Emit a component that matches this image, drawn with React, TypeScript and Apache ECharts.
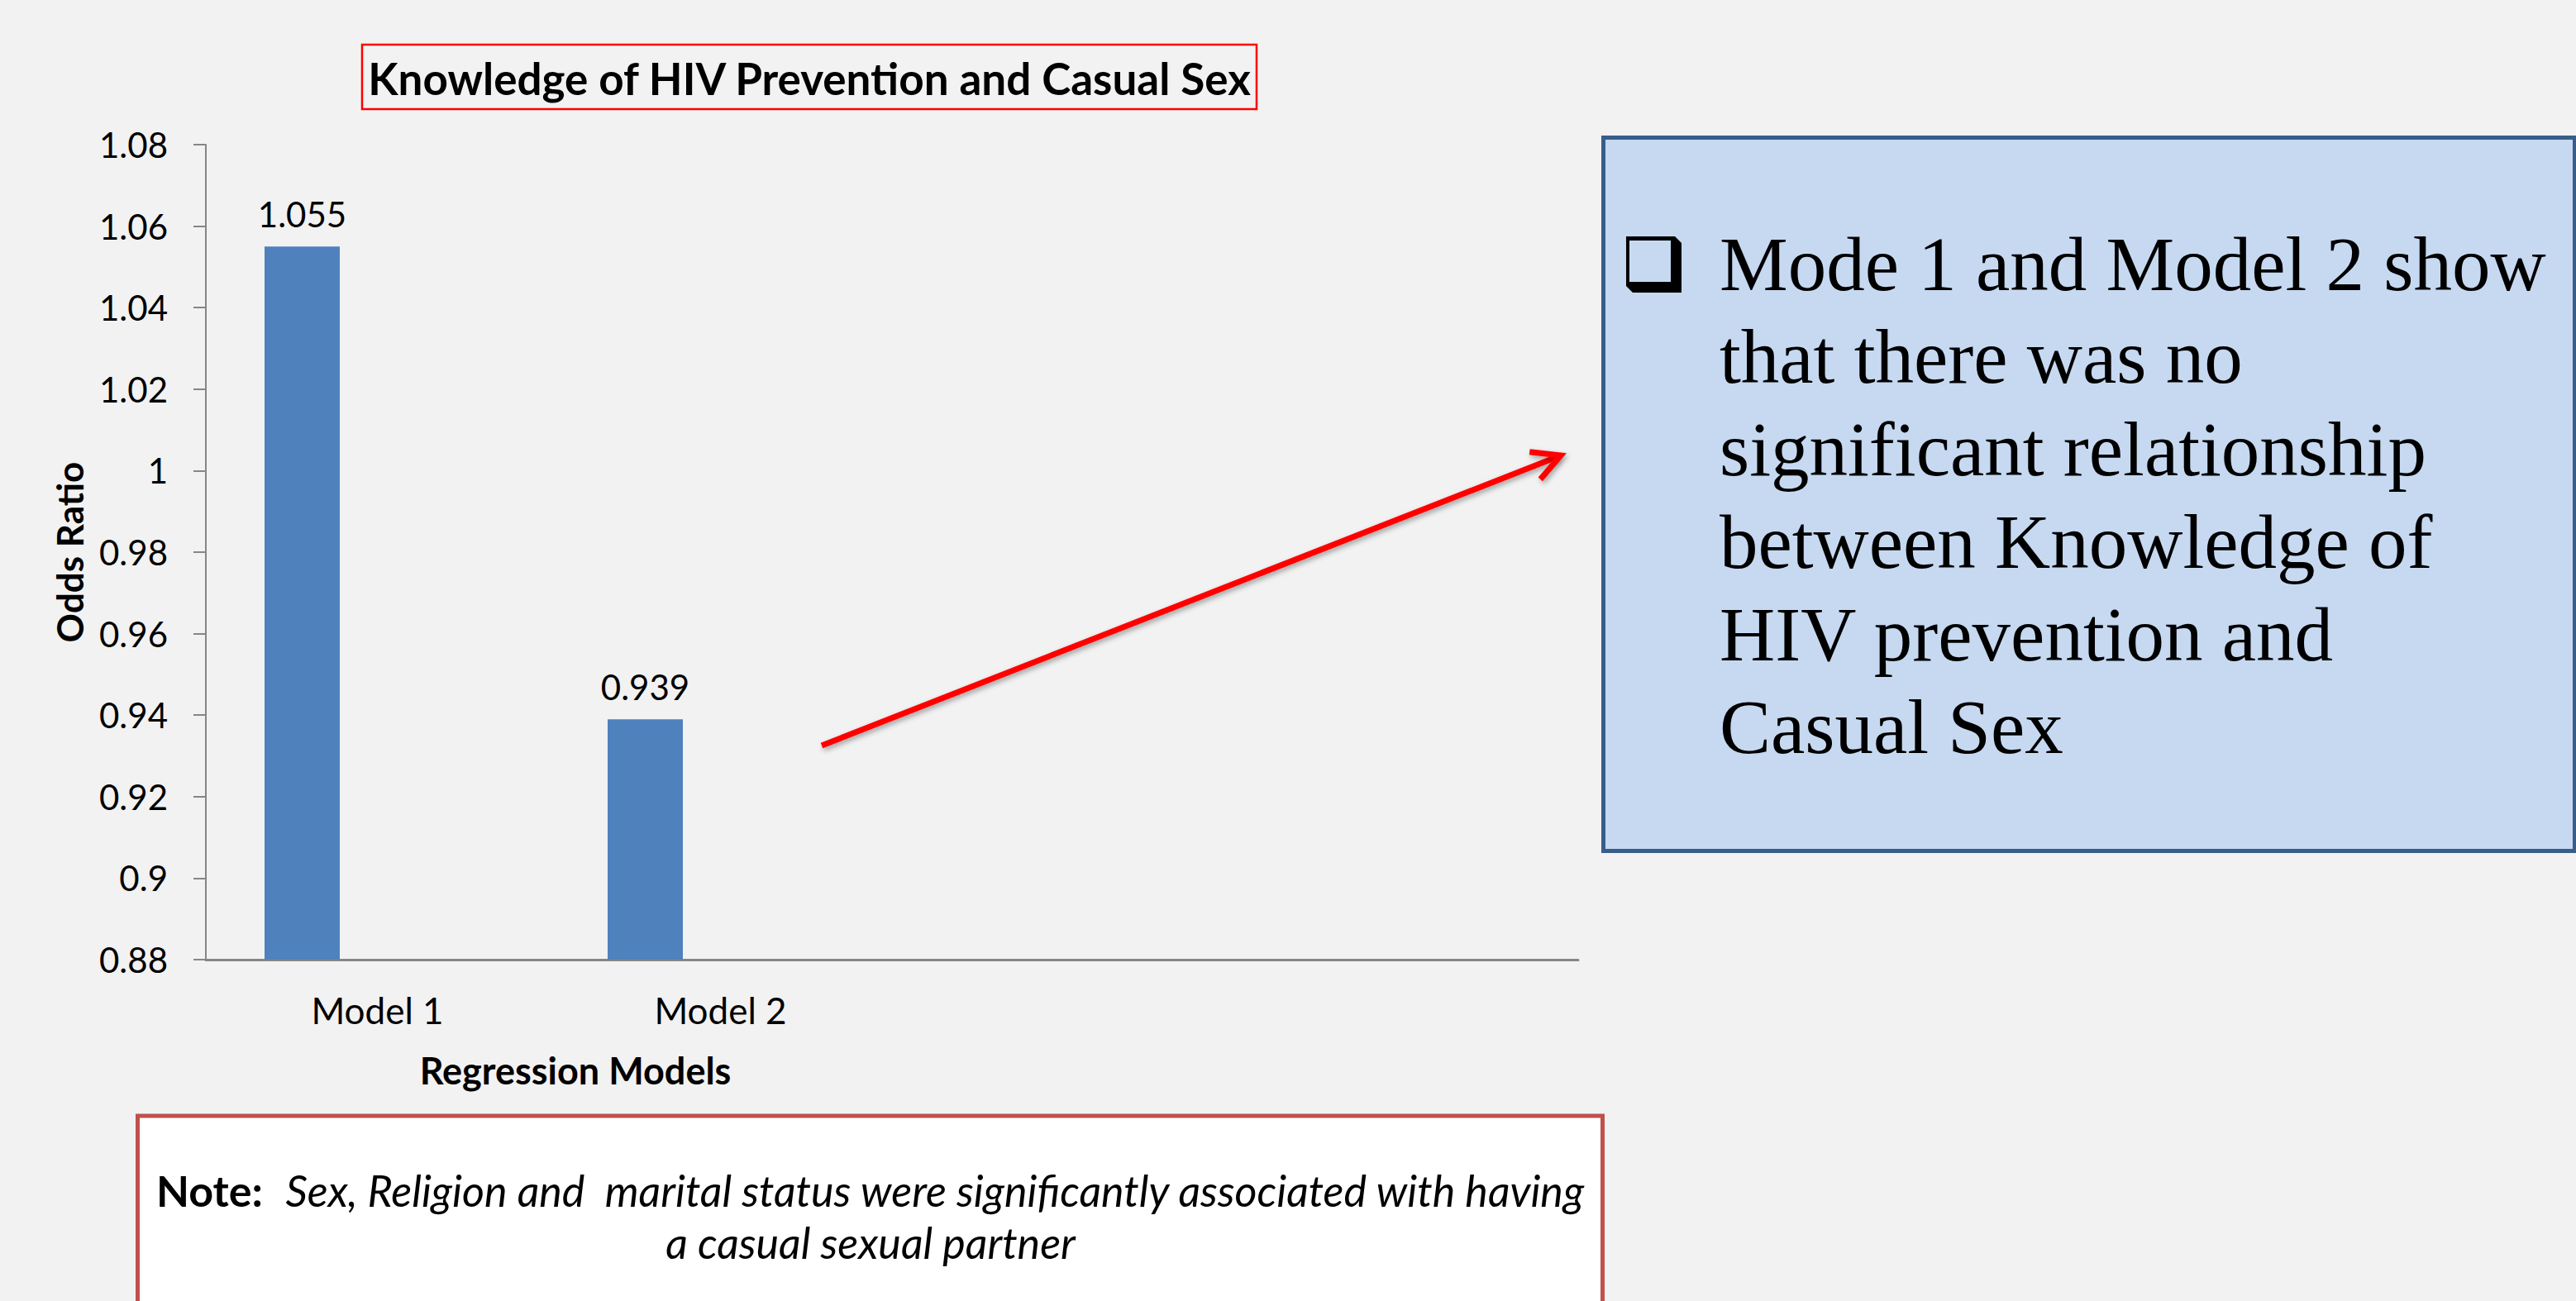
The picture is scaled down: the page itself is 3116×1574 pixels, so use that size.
import React, { useEffect, useRef } from "react";
import * as echarts from "echarts";

const categories = ["Model 1", "Model 2", "", ""];
const seriesNames = ["Series 1", "Series 2", "Series 3"];
const series1 = [1.055, 0.939, null, null];
const series2 = [null, null, null, null];
const series3 = [null, null, null, null];
const yTickLabels = ["0.88", "0.9", "0.92", "0.94", "0.96", "0.98", "1", "1.02", "1.04", "1.06", "1.08"];
const yMin = 0.88;
const yMax = 1.08;
const yStep = 0.02;

const chartTitle = "Knowledge of HIV Prevention and Casual Sex";
const yAxisTitle = "Odds Ratio";
const xAxisTitle = "Regression Models";
const boxLines = [
  "Mode 1 and Model 2 show",
  "that there was no",
  "significant relationship",
  "between Knowledge of",
  "HIV prevention and",
  "Casual Sex",
];
const noteBold = "Note:";
const noteLine1 = "Sex, Religion and  marital status were significantly associated with having";
const noteLine2 = "a casual sexual partner";

const W = 3116;
const H = 1574;
const SANS = "Lato, 'Open Sans', sans-serif";
const SERIF = "'Liberation Serif', 'DejaVu Serif', serif";

export default function App() {
  const ref = useRef<HTMLDivElement>(null);
  useEffect(() => {
    document.body.style.margin = "0";
    document.body.style.background = "#f2f2f2";
    const chart = echarts.init(ref.current!, null, { renderer: "svg" });

    const seriesData = [series1, series2, series3];
    const series = seriesData.map((d, i) => ({
      name: seriesNames[i],
      type: "bar",
      data: d,
      barWidth: 91,
      barGap: "0%",
      itemStyle: { color: "#4f81bd" },
      label: {
        show: i === 0,
        position: "top",
        distance: 18,
        fontSize: 42,
        fontFamily: SANS,
        color: "#000",
      },
    }));

    const graphic: any[] = [];
    // Title box
    graphic.push({
      type: "rect",
      shape: { x: 438, y: 54, width: 1082, height: 78 },
      style: { fill: "none", stroke: "#ff0000", lineWidth: 2.5 },
    });
    graphic.push({
      type: "text",
      x: 979,
      y: 94,
      style: {
        text: chartTitle,
        fontSize: 53,
        fontWeight: "bold",
        fontFamily: SANS,
        fill: "#000",
        align: "center",
        verticalAlign: "middle",
      },
    });
    // Axis titles
    graphic.push({
      type: "text",
      x: 84,
      y: 668,
      rotation: Math.PI / 2,
      style: {
        text: yAxisTitle,
        fontSize: 44,
        fontWeight: "bold",
        fontFamily: SANS,
        fill: "#000",
        align: "center",
        verticalAlign: "middle",
      },
    });
    graphic.push({
      type: "text",
      x: 696,
      y: 1295,
      style: {
        text: xAxisTitle,
        fontSize: 45,
        fontWeight: "bold",
        fontFamily: SANS,
        fill: "#000",
        align: "center",
        verticalAlign: "middle",
      },
    });
    // Arrow
    const ax1 = 994, ay1 = 902, ax2 = 1888, ay2 = 551;
    const ang = Math.atan2(ay1 - ay2, ax1 - ax2);
    const armLen = 38;
    const spread = (28 * Math.PI) / 180;
    const arrowShadow = {
      shadowBlur: 6,
      shadowColor: "rgba(0,0,0,0.35)",
      shadowOffsetX: 2,
      shadowOffsetY: 3,
    };
    graphic.push({
      type: "line",
      shape: { x1: ax1, y1: ay1, x2: ax2 - 4 * Math.cos(ang + Math.PI), y2: ay2 - 4 * Math.sin(ang + Math.PI) },
      style: { stroke: "#ff0000", lineWidth: 7, ...arrowShadow },
    });
    graphic.push({
      type: "polyline",
      shape: {
        points: [
          [ax2 + armLen * Math.cos(ang + spread), ay2 + armLen * Math.sin(ang + spread)],
          [ax2, ay2],
          [ax2 + armLen * Math.cos(ang - spread), ay2 + armLen * Math.sin(ang - spread)],
        ],
      },
      style: { stroke: "#ff0000", lineWidth: 7, fill: "none", lineJoin: "miter", ...arrowShadow },
    });
    // Right text box
    graphic.push({
      type: "rect",
      shape: { x: 1939.5, y: 166.5, width: 1175, height: 863 },
      style: { fill: "#c6d9f1", stroke: "#385d8a", lineWidth: 5 },
    });
    graphic.push({
      type: "polygon",
      shape: {
        points: [
          [1967, 286],
          [2026, 286],
          [2034, 294],
          [2034, 354],
          [1975, 354],
          [1967, 346],
        ],
      },
      style: { fill: "#000" },
    });
    graphic.push({
      type: "rect",
      shape: { x: 1971, y: 291, width: 50, height: 50 },
      style: { fill: "#c6d9f1" },
    });
    boxLines.forEach((t, i) => {
      graphic.push({
        type: "text",
        x: 2080,
        y: 366 + i * 112,
        style: {
          text: t,
          fontSize: 93,
          fontFamily: SERIF,
          fill: "#000",
          align: "left",
          verticalAlign: "bottom",
        },
      });
    });
    // Note box
    graphic.push({
      type: "rect",
      shape: { x: 166.5, y: 1350, width: 1772, height: 300 },
      style: { fill: "#ffffff", stroke: "#c0504d", lineWidth: 5 },
    });
    graphic.push({
      type: "text",
      x: 1053,
      y: 1440,
      style: {
        text: "{b|" + noteBold + "}  {i|" + noteLine1 + "}",
        fontSize: 52,
        fontFamily: SANS,
        fill: "#000",
        align: "center",
        verticalAlign: "middle",
        rich: {
          b: { fontSize: 52, fontFamily: SANS, fontWeight: "bold", fill: "#000" },
          i: { fontSize: 52, fontFamily: SANS, fontStyle: "italic", fill: "#000" },
        },
      },
    });
    graphic.push({
      type: "text",
      x: 1053,
      y: 1503,
      style: {
        text: noteLine2,
        fontSize: 52,
        fontFamily: SANS,
        fontStyle: "italic",
        fill: "#000",
        align: "center",
        verticalAlign: "middle",
      },
    });

    chart.setOption({
      animation: false,
      backgroundColor: "#f2f2f2",
      grid: { left: 249, right: W - 1909, top: 175, bottom: H - 1161, containLabel: false },
      xAxis: {
        type: "category",
        data: categories,
        axisLine: { show: true, lineStyle: { color: "#868686", width: 3 } },
        axisTick: { show: false },
        axisLabel: { fontSize: 44, fontFamily: SANS, color: "#000", margin: 39 },
        splitLine: { show: false },
      },
      yAxis: {
        type: "value",
        min: yMin,
        max: yMax,
        interval: yStep,
        axisLine: { show: true, lineStyle: { color: "#868686", width: 2 } },
        axisTick: { show: true, length: 15, lineStyle: { color: "#868686", width: 2 } },
        axisLabel: {
          fontSize: 42,
          fontFamily: SANS,
          color: "#000",
          margin: 46,
          formatter: (v: number) => yTickLabels[Math.round((v - yMin) / yStep)] ?? "",
        },
        splitLine: { show: false },
      },
      series,
      graphic,
    });
    return () => chart.dispose();
  }, []);
  return (
    <div
      ref={ref}
      style={{ position: "absolute", left: 0, top: 0, width: W, height: H }}
    />
  );
}
